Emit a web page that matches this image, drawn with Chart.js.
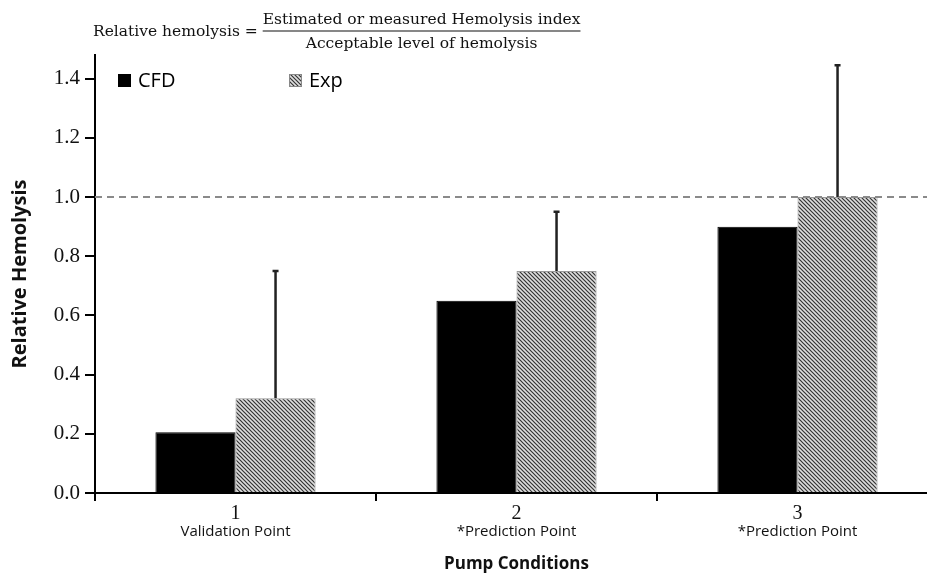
<!DOCTYPE html>
<html lang="en">
<head>
    <meta charset="UTF-8">
    <title>Relative Hemolysis</title>
    <script src="https://cdn.jsdelivr.net/npm/chart.js@4.4.0/dist/chart.umd.min.js"></script>
    <style>
        body { margin: 0; overflow: hidden; background: #fff; }
        .container { width: 940px; height: 576px; position: relative; }
    </style>
</head>
<body>
    <div class="container">
        <canvas id="barChart"></canvas>
    </div>
    <script>
    // data
    var conditions = ["1", "2", "3"];
    var subLabels = ["Validation Point", "*Prediction Point", "*Prediction Point"];
    var cfdValues = [0.205, 0.65, 0.90];
    var expValues = [0.32, 0.75, 1.0];
    var expErrors = [0.43, 0.20, 0.445];
    var yTicks = [0, 0.2, 0.4, 0.6, 0.8, 1.0, 1.2, 1.4];
    var acceptLevel = 1.0;

    function hatchPattern() {
        var c = document.createElement('canvas');
        c.width = 4; c.height = 4;
        var x = c.getContext('2d');
        x.fillStyle = '#dedede';
        x.fillRect(0, 0, 4, 4);
        x.strokeStyle = '#333';
        x.lineWidth = 1.2;
        x.beginPath();
        x.moveTo(0, 0); x.lineTo(4, 4);
        x.moveTo(-1, 3); x.lineTo(1, 5);
        x.moveTo(3, -1); x.lineTo(5, 1);
        x.stroke();
        return x.createPattern(c, 'repeat');
    }

    var serif = '"Liberation Serif", "Times New Roman", serif';
    var sans = '"Open Sans", "DejaVu Sans", sans-serif';

    var extras = {
        id: 'extras',
        afterDatasetsDraw: function (chart) {
            var ctx = chart.ctx;
            var area = chart.chartArea;
            var y = chart.scales.y;
            var x = chart.scales.x;

            // dashed acceptable-level line
            ctx.save();
            ctx.strokeStyle = '#8a8a8a';
            ctx.lineWidth = 2;
            ctx.setLineDash([7, 5]);
            ctx.beginPath();
            ctx.moveTo(area.left, y.getPixelForValue(acceptLevel));
            ctx.lineTo(area.right, y.getPixelForValue(acceptLevel));
            ctx.stroke();
            ctx.restore();

            // error bars on Exp
            var meta = chart.getDatasetMeta(1);
            ctx.save();
            ctx.strokeStyle = '#222';
            ctx.lineWidth = 2.5;
            for (var i = 0; i < expValues.length; i++) {
                var bx = meta.data[i].x;
                var top = y.getPixelForValue(expValues[i] + expErrors[i]);
                ctx.beginPath();
                ctx.moveTo(bx, y.getPixelForValue(expValues[i]));
                ctx.lineTo(bx, top);
                ctx.moveTo(bx - 3, top);
                ctx.lineTo(bx + 3, top);
                ctx.stroke();
            }
            ctx.restore();

            // sub labels under the category numbers
            ctx.save();
            ctx.fillStyle = '#111';
            ctx.font = '15px ' + sans;
            ctx.textAlign = 'center';
            ctx.textBaseline = 'middle';
            for (var j = 0; j < subLabels.length; j++) {
                ctx.fillText(subLabels[j], x.getPixelForValue(j), 532);
            }
            ctx.restore();

            // legend
            ctx.save();
            var items = [
                { label: chart.data.datasets[0].label, fill: chart.data.datasets[0].backgroundColor, x: 118 },
                { label: chart.data.datasets[1].label, fill: chart.data.datasets[1].backgroundColor, x: 289 }
            ];
            ctx.font = '20px ' + sans;
            ctx.textBaseline = 'middle';
            items.forEach(function (it) {
                ctx.fillStyle = it.fill;
                ctx.fillRect(it.x, 74, 13, 13);
                ctx.strokeStyle = it.label == 'Exp' ? '#888' : '#000';
                ctx.lineWidth = 1;
                ctx.strokeRect(it.x + 0.5, 74.5, 12, 12);
                ctx.fillStyle = '#000';
                ctx.fillText(it.label, it.x + 20, 81);
            });
            ctx.restore();

            // formula on top
            ctx.save();
            ctx.fillStyle = '#111';
            ctx.font = '15.5px "DejaVu Serif", serif';
            ctx.textBaseline = 'middle';
            ctx.textAlign = 'left';
            var lhs = 'Relative hemolysis = ';
            ctx.fillText(lhs, 93, 32);
            var fx = 93 + ctx.measureText(lhs).width;
            var num = 'Estimated or measured Hemolysis index';
            var den = 'Acceptable level of hemolysis';
            var w = ctx.measureText(num).width;
            ctx.fillText(num, fx, 20);
            ctx.textAlign = 'center';
            ctx.fillText(den, fx + w / 2, 44);
            ctx.strokeStyle = '#111';
            ctx.lineWidth = 1.2;
            ctx.beginPath();
            ctx.moveTo(fx, 31);
            ctx.lineTo(fx + w, 31);
            ctx.stroke();
            ctx.restore();
        }
    };

    var barData = {
        labels: conditions,
        datasets: [{
            label: 'CFD',
            backgroundColor: '#000',
            borderColor: '#000',
            borderWidth: 1,
            data: cfdValues
        }, {
            label: 'Exp',
            backgroundColor: hatchPattern(),
            borderColor: '#999',
            borderWidth: 1,
            data: expValues
        }]
    };

    var ctx = document.getElementById("barChart").getContext("2d");
    var myChart = new Chart(ctx, {
        type: 'bar',
        data: barData,
        plugins: [extras],
        options: {
            responsive: true,
            maintainAspectRatio: false,
            animation: false,
            layout: { padding: { top: 55, left: 0, right: 2, bottom: 0 } },
            datasets: { bar: { barPercentage: 1.0, categoryPercentage: 0.57 } },
            plugins: {
                legend: { display: false },
                tooltip: { enabled: false }
            },
            scales: {
                x: {
                    afterFit: function (s) { s.height = 83; },
                    border: { color: '#000', width: 2 },
                    grid: { offset: true, drawOnChartArea: false, tickLength: 8, color: '#000', lineWidth: 2 },
                    ticks: { color: '#111', font: { family: serif, size: 20 }, padding: 1 },
                    title: { display: true, text: 'Pump Conditions', color: '#111', font: { family: sans, size: 17, weight: 'bold' }, padding: { top: 0, bottom: 2 } }
                },
                y: {
                    min: 0,
                    max: 1.48,
                    afterFit: function (s) { s.width = 95; },
                    afterBuildTicks: function (s) {
                        s.ticks = yTicks.map(function (v) { return { value: v }; });
                    },
                    border: { color: '#000', width: 2 },
                    grid: { drawOnChartArea: false, tickLength: 10, color: '#000', lineWidth: 2 },
                    ticks: {
                        color: '#111',
                        font: { family: serif, size: 21 },
                        padding: 5,
                        callback: function (v) { return Number(v).toFixed(1); }
                    },
                    title: { display: true, text: 'Relative Hemolysis', color: '#111', font: { family: sans, size: 20, weight: 'bold' }, padding: { top: 8, bottom: 0 } }
                }
            }
        }
    });
    </script>
</body>
</html>
